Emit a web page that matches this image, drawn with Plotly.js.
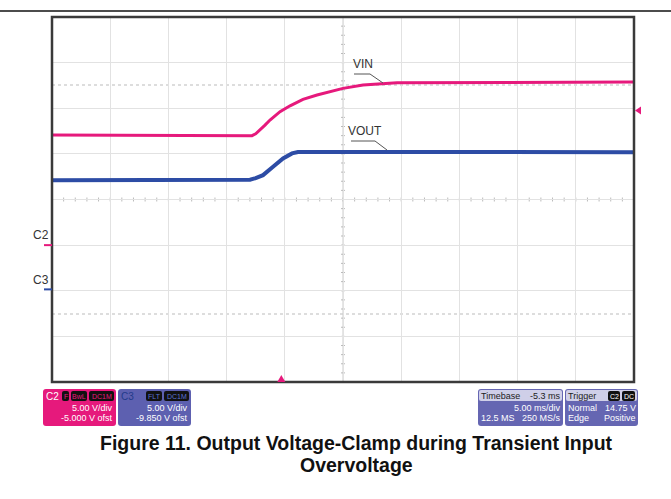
<!DOCTYPE html>
<html><head><meta charset="utf-8">
<script src="https://cdn.plot.ly/plotly-3.0.1.min.js"></script>
<style>html,body{margin:0;padding:0;background:#fff;}#chart{width:671px;height:499px;}</style>
</head><body><div id="chart"></div>
<script>
// ---- data (time in ms, trigger at t=0; voltages in V) ----
const vinTime  = [-19.7, -2.52, -2.2, -1.83, -1.4, -0.97, -0.11, 0.75, 1.86, 3.07, 4.18, 5.3, 7.02, 8.74, 9.94, 30.3];
const vinVolts = [12.06, 12.00, 12.2, 12.61, 13.15, 13.71, 14.62, 15.27, 15.98, 16.45, 16.81, 17.18, 17.54, 17.73, 17.80, 17.87];
const voutTime  = [-19.7, -2.69, -2.2, -1.57, -0.71, 0.15, 0.92, 1.2, 1.43, 30.3];
const voutVolts = [11.97, 12.02, 12.2, 12.52, 13.43, 14.35, 14.90, 15.02, 15.06, 15.04];
const seriesNames = ["VIN", "VOUT"];
const triggerLevel = 14.75;     // V on C2
const timeRange = [-19.7, 30.3]; // 10 div x 5 ms/div, delay -5.3 ms
const c2Range = [-15, 25];       // 5 V/div, offset -5.000 V
const c3Range = [-10.15, 29.85]; // 5 V/div, offset -9.850 V

// ---- geometry helpers (pixel -> paper) ----
const L = 52, R = 634, T = 17, B = 382;
const X = px => (px - L) / (R - L);
const Y = py => (B - py) / (B - T);

const MAG = '#e6197c', BLU = '#2d4ca5', BOXB = '#6566b2';
const FONT = 'Liberation Sans, Arial';
const shapes = [], ann = [];

// dotted lines
[85, 314].forEach(py => shapes.push({type:'line', xref:'paper', yref:'paper', x0:0, x1:1, y0:Y(py), y1:Y(py), line:{color:'#bbb', width:1, dash:'dot'}, layer:'below'}));
// center cross with minor ticks
shapes.push({type:'line', xref:'paper', yref:'paper', x0:0.5, x1:0.5, y0:0, y1:1, line:{color:'#ccc', width:1}, layer:'below'});
shapes.push({type:'line', xref:'paper', yref:'paper', x0:0, x1:1, y0:0.5, y1:0.5, line:{color:'#ccc', width:1}, layer:'below'});
let tp = '';
const cx = (L + R) / 2, cy = (T + B) / 2;
for (let i = 0; i <= 50; i++) { const px = L + i * (R - L) / 50; tp += `M${X(px)},${Y(cy - 2)}L${X(px)},${Y(cy + 2)}`; }
for (let i = 0; i <= 40; i++) { const py = T + i * (B - T) / 40; tp += `M${X(cx - 2)},${Y(py)}L${X(cx + 2)},${Y(py)}`; }
shapes.push({type:'path', xref:'paper', yref:'paper', path:tp, line:{color:'#bbb', width:1}, layer:'below'});
// frame
shapes.push({type:'rect', xref:'paper', yref:'paper', x0:0, x1:1, y0:0, y1:1, line:{color:'#3a3a3a', width:2.5}});
// top rule
shapes.push({type:'line', xref:'paper', yref:'paper', x0:X(0), x1:X(671), y0:Y(11), y1:Y(11), line:{color:'#111', width:1.5}});

// channel ground markers
shapes.push({type:'line', xref:'paper', yref:'y', x0:X(44), x1:X(52), y0:0, y1:0, line:{color:MAG, width:2}});
shapes.push({type:'line', xref:'paper', yref:'y2', x0:X(44), x1:X(52), y0:0, y1:0, line:{color:BLU, width:2}});
ann.push({xref:'paper', yref:'paper', x:X(51), y:Y(244), text:'C2', showarrow:false, xanchor:'right', yanchor:'bottom', font:{family:FONT, size:12, color:'#333'}});
ann.push({xref:'paper', yref:'paper', x:X(51), y:Y(289), text:'C3', showarrow:false, xanchor:'right', yanchor:'bottom', font:{family:FONT, size:12, color:'#333'}});

// trigger markers
const tw = 4 / (R - L) * (timeRange[1] - timeRange[0]);
shapes.push({type:'path', xref:'x', yref:'paper', path:`M${-tw},${Y(382)}L${tw},${Y(382)}L0,${Y(375)}Z`, fillcolor:MAG, line:{color:MAG, width:0}});
const th = 4 / (B - T) * (c2Range[1] - c2Range[0]);
shapes.push({type:'path', xref:'paper', yref:'y', path:`M${X(641)},${triggerLevel - th}L${X(641)},${triggerLevel + th}L${X(635)},${triggerLevel}Z`, fillcolor:MAG, line:{color:MAG, width:0}});

// labels with leader lines
const lab = {family:FONT, size:12, color:'#333'};
ann.push({xref:'paper', yref:'paper', x:X(351), y:Y(73), text:seriesNames[0], showarrow:false, xanchor:'left', yanchor:'bottom', font:lab});
shapes.push({type:'path', xref:'paper', yref:'paper', path:`M${X(354)},${Y(74)}L${X(370)},${Y(74)}L${X(383)},${Y(83)}`, line:{color:'#555', width:1}});
ann.push({xref:'paper', yref:'paper', x:X(346), y:Y(140), text:seriesNames[1], showarrow:false, xanchor:'left', yanchor:'bottom', font:lab});
shapes.push({type:'path', xref:'paper', yref:'paper', path:`M${X(351)},${Y(141)}L${X(375)},${Y(141)}L${X(387)},${Y(150)}`, line:{color:'#555', width:1}});

// info boxes
function rbox(x0, y0, x1, y1, r, fill) {
  const p = `M${X(x0 + r)},${Y(y0)}L${X(x1 - r)},${Y(y0)}Q${X(x1)},${Y(y0)} ${X(x1)},${Y(y0 + r)}L${X(x1)},${Y(y1 - r)}Q${X(x1)},${Y(y1)} ${X(x1 - r)},${Y(y1)}L${X(x0 + r)},${Y(y1)}Q${X(x0)},${Y(y1)} ${X(x0)},${Y(y1 - r)}L${X(x0)},${Y(y0 + r)}Q${X(x0)},${Y(y0)} ${X(x0 + r)},${Y(y0)}Z`;
  shapes.push({type:'path', xref:'paper', yref:'paper', path:p, fillcolor:fill, line:{width:0}});
}
function txt(px, py, s, color, anchor, size) {
  ann.push({xref:'paper', yref:'paper', x:X(px), y:Y(py), text:s, showarrow:false, xanchor:anchor || 'left', yanchor:'middle', borderpad:0, font:{family:FONT, size:size || 9, color:color}});
}
function pill(x0, x1, s, color) {
  rbox(x0, 391, x1, 401, 2, '#111');
  ann.push({xref:'paper', yref:'paper', x:X((x0 + x1) / 2), y:Y(396), text:s, showarrow:false, xanchor:'center', yanchor:'middle', borderpad:0, font:{family:FONT, size:7, color:color}});
}
rbox(43, 389, 116, 426, 3, MAG);
txt(45, 396, 'C2', '#fff', 'left', 10);
pill(62, 69, 'F', MAG); pill(71, 87, 'BwL', MAG); pill(89, 114, 'DC1M', MAG);
txt(114, 408, '5.00 V/div', '#fff', 'right'); txt(114, 418, '-5.000 V ofst', '#fff', 'right');

rbox(118, 389, 191, 426, 3, '#5d60b0');
txt(120, 396, 'C3', '#223a8a', 'left', 10);
pill(146, 162, 'FLT', '#5a74d0'); pill(164, 189, 'DC1M', '#5a74d0');
txt(189, 408, '5.00 V/div', '#fff', 'right'); txt(189, 418, '-9.850 V ofst', '#fff', 'right');

rbox(478, 389, 563, 426, 3, BOXB);
rbox(479, 390, 562, 401, 2, '#cfcfe8');
txt(480, 396, 'Timebase', '#222', 'left'); txt(562, 396, '-5.3 ms', '#222', 'right');
txt(562, 408, '5.00 ms/div', '#fff', 'right');
txt(480, 418, '12.5 MS', '#fff', 'left'); txt(562, 418, '250 MS/s', '#fff', 'right');

rbox(565, 389, 638, 426, 3, BOXB);
rbox(566, 390, 637, 401, 2, '#cfcfe8');
txt(567, 396, 'Trigger', '#222', 'left');
pill(608, 620, 'C2', '#fff'); pill(622, 635, 'DC', '#fff');
txt(567, 408, 'Normal', '#fff', 'left'); txt(637, 408, '14.75 V', '#fff', 'right');
txt(567, 418, 'Edge', '#fff', 'left'); txt(637, 418, 'Positive', '#fff', 'right');

// figure caption
const cap = {family:FONT, size:19.5, color:'#111'};
ann.push({xref:'paper', yref:'paper', x:X(356), y:Y(443), text:'<b>Figure 11. Output Voltage-Clamp during Transient Input</b>', showarrow:false, xanchor:'center', yanchor:'middle', font:cap});
ann.push({xref:'paper', yref:'paper', x:X(356), y:Y(465), text:'<b>Overvoltage</b>', showarrow:false, xanchor:'center', yanchor:'middle', font:cap});

const traces = [
  {x:vinTime, y:vinVolts, name:seriesNames[0], type:'scatter', mode:'lines', line:{color:MAG, width:3}, yaxis:'y'},
  {x:voutTime, y:voutVolts, name:seriesNames[1], type:'scatter', mode:'lines', line:{color:BLU, width:4}, yaxis:'y2'}
];
const layout = {
  width:671, height:499, margin:{l:L, r:671 - R, t:T, b:499 - B},
  paper_bgcolor:'#fff', plot_bgcolor:'#fff', showlegend:false,
  xaxis:{range:timeRange, tick0:timeRange[0], dtick:5, showticklabels:false, ticks:'', gridcolor:'#e2e2e2', zeroline:false, showline:false, fixedrange:true},
  yaxis:{range:c2Range, tick0:c2Range[0], dtick:5, showticklabels:false, ticks:'', gridcolor:'#e2e2e2', zeroline:false, showline:false, fixedrange:true},
  yaxis2:{range:c3Range, overlaying:'y', showgrid:false, showticklabels:false, ticks:'', zeroline:false, showline:false, fixedrange:true},
  shapes:shapes, annotations:ann
};
Plotly.newPlot('chart', traces, layout, {staticPlot:true, displayModeBar:false});
</script></body></html>
